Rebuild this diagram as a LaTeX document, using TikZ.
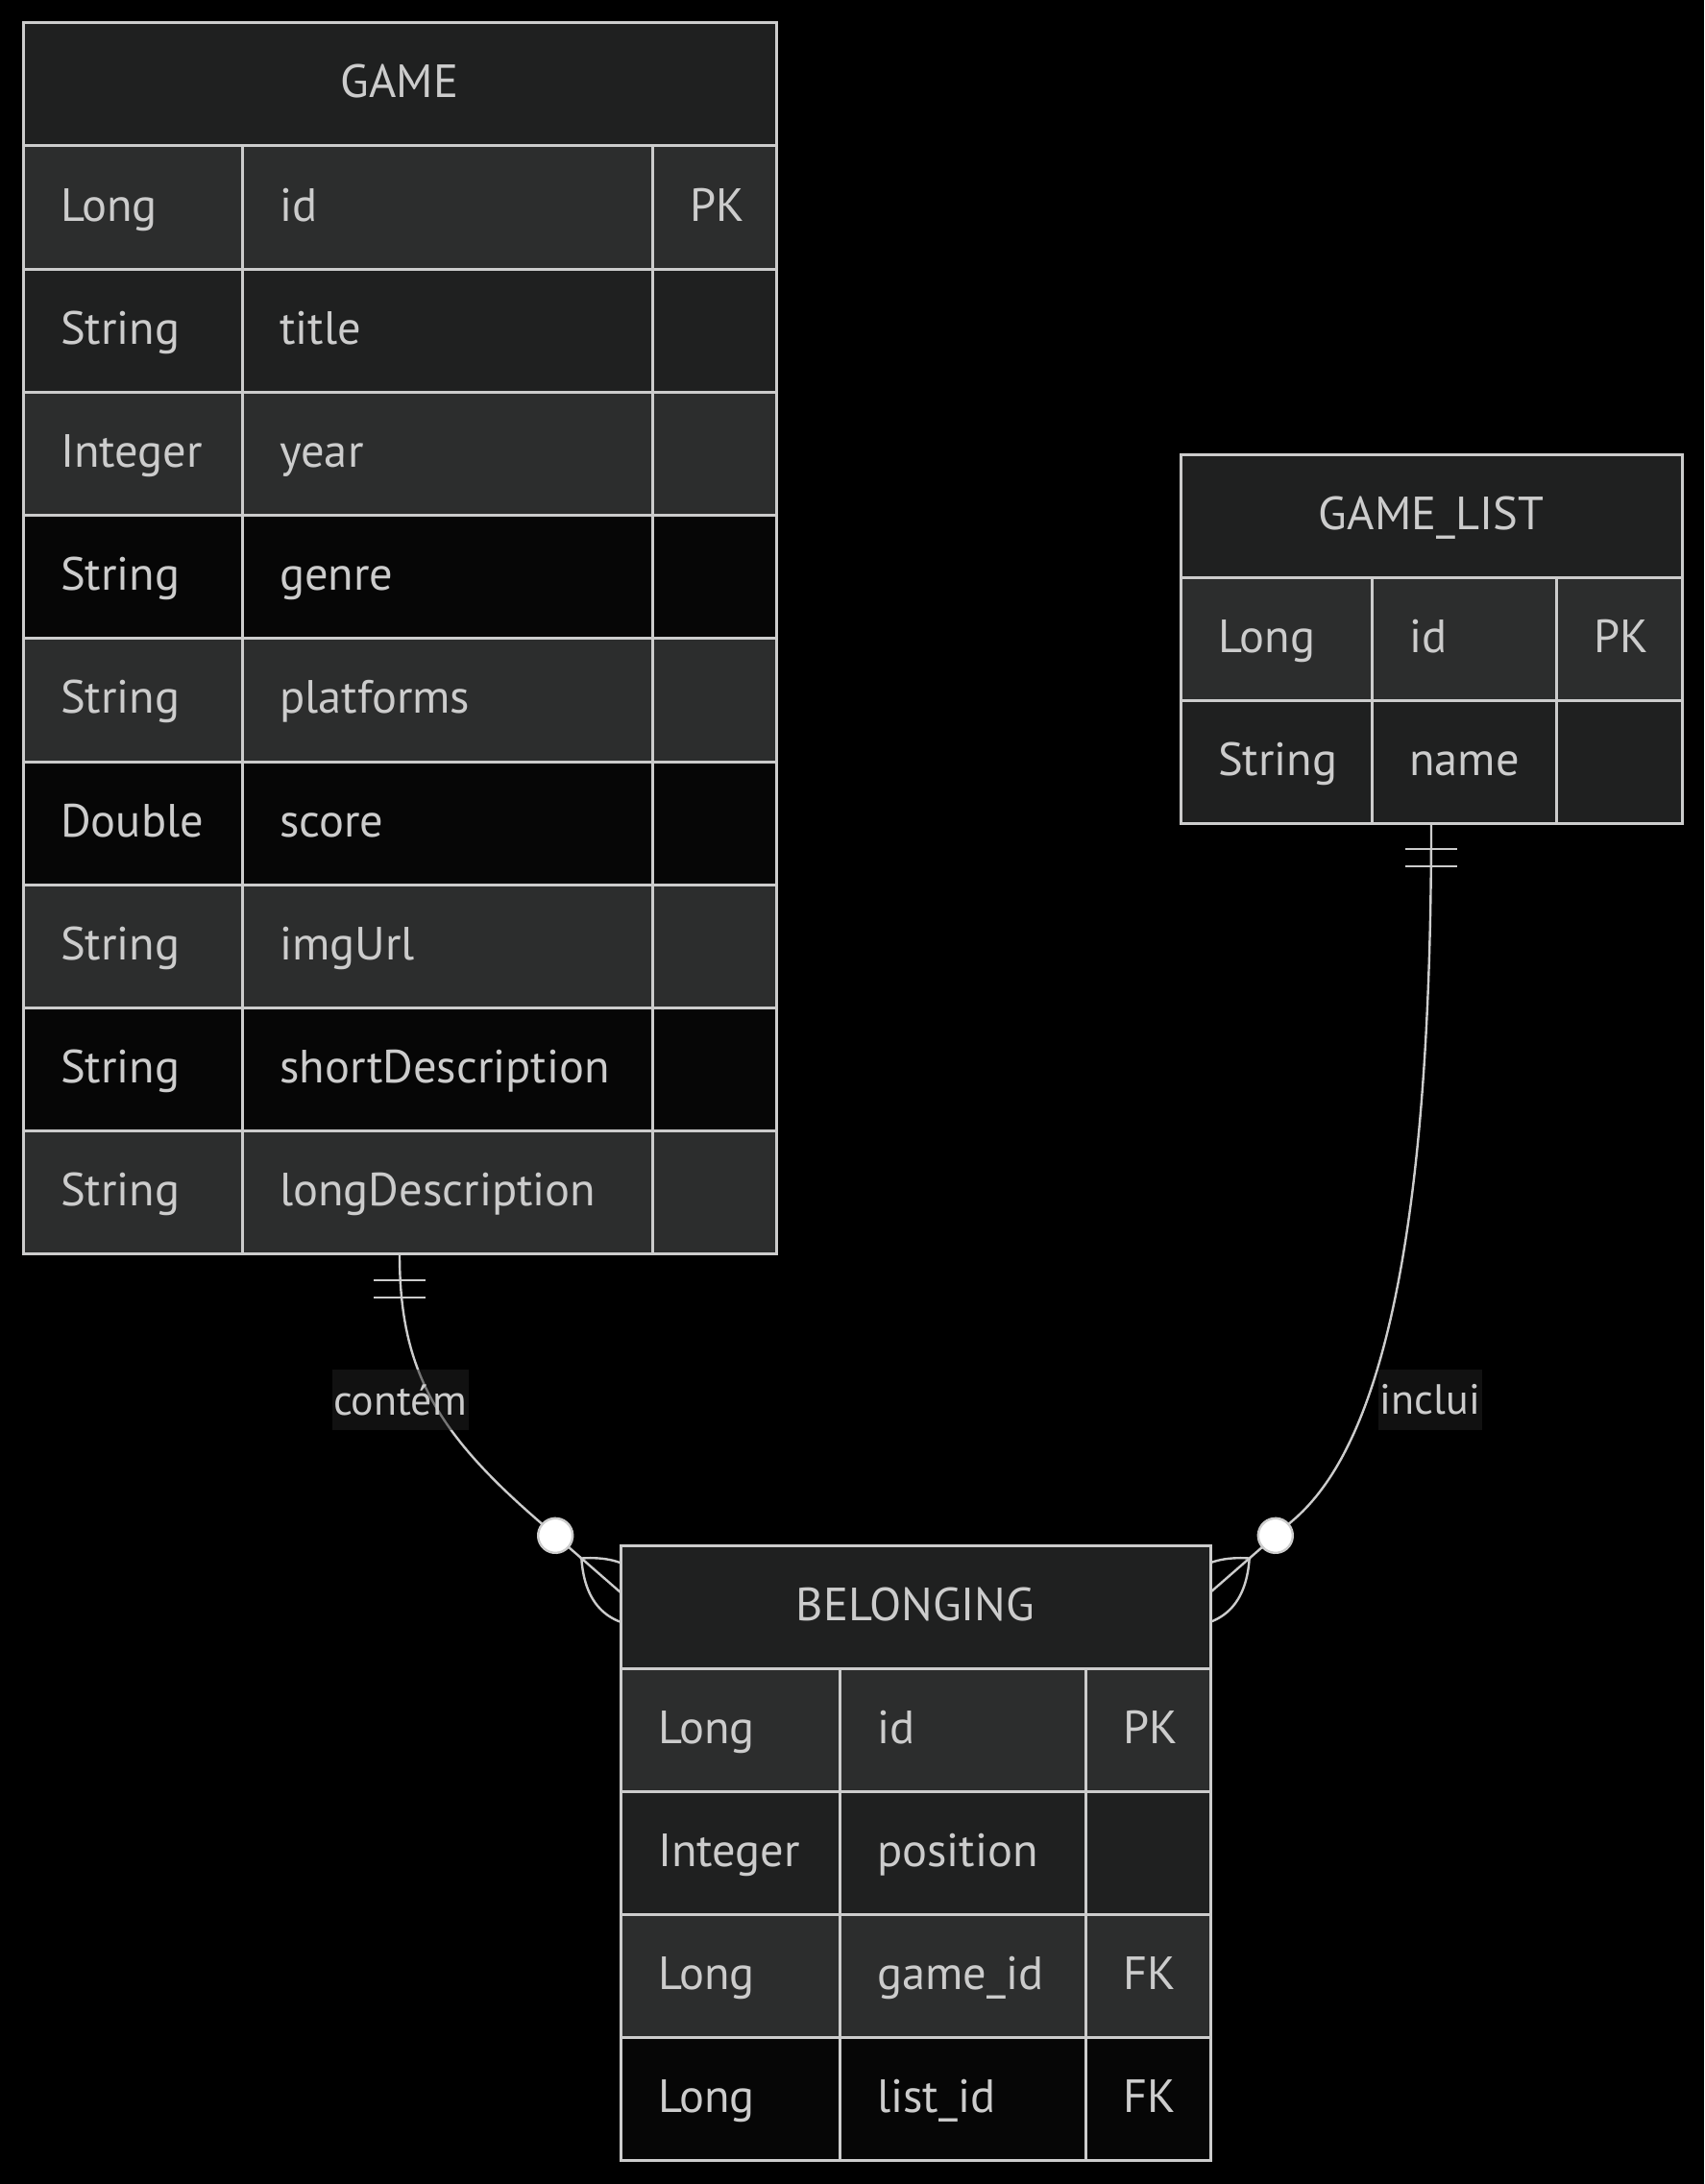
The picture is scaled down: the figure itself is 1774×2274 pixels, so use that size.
\documentclass[tikz,border=0pt]{standalone}
\usepackage{fontspec}
\setmainfont{PT Sans}
\usetikzlibrary{calc}
\definecolor{hdr}{HTML}{1F2020}
\definecolor{rowL}{HTML}{2C2D2D}
\definecolor{rowM}{HTML}{1F2020}
\definecolor{rowD}{HTML}{060606}
\definecolor{ln}{HTML}{CCCCCC}
\definecolor{txt}{HTML}{CCCCCC}
\definecolor{lblbg}{HTML}{222222}
\pgfdeclarelayer{back}
\pgfdeclarelayer{conn}
\pgfsetlayers{back,conn,main}
\tikzset{
  border/.style={draw=ln, line width=3pt},
  celltext/.style={text=txt, font=\fontsize{48.5}{58}\selectfont, inner sep=0pt},
  entbox/.style={rectangle, draw=none, inner sep=0pt, outer sep=0pt, anchor=north west},
  rel/.style={draw=ln, line width=2.4pt},
  lbl/.style={text=txt, font=\fontsize{44}{52}\selectfont, fill=lblbg, fill opacity=0.5, text opacity=1,
              inner xsep=1.5pt, inner ysep=0pt, minimum height=63pt},
  ringdot/.style={fill=white, draw=ln, line width=2.4pt},
}
% row: #1 name prefix, #2 top, #3 bottom, #4 fill, #5 type, #6 field, #7 key
\newcommand\erow[7]{%
  \fill[#4] (\xa,#2) rectangle (\xd,#3);
  \node[celltext,anchor=base west] (#1-t) at ({\xa+39},{(#2+#3)/2+14}) {#5};
  \node[celltext,anchor=base west] (#1-n) at ({\xb+39},{(#2+#3)/2+14}) {#6};
  \if\relax\detokenize{#7}\relax\else
  \node[celltext,anchor=base west] (#1-k) at ({\xc+39},{(#2+#3)/2+14}) {#7};
  \fi
}
\newcommand\ehead[4]{% #1 name, #2 top, #3 bottom, #4 title
  \fill[hdr] (\xa,#2) rectangle (\xd,#3);
  \node[celltext,anchor=base] (#1-title) at ({(\xa+\xd)/2},{(#2+#3)/2+14}) {#4};
}
\begin{document}
\begin{tikzpicture}[x=1pt,y=-1pt]
\begin{pgfonlayer}{back}
  \fill[black] (0,0) rectangle (1774,2274);
\end{pgfonlayer}
\useasboundingbox (0,0) rectangle (1774,2274);

% entity frames (anchors)
\node[entbox, minimum width=784pt, minimum height=1281.8pt] (game) at (24,24) {};
\node[entbox, minimum width=522pt, minimum height=384pt] (gl) at (1229,473) {};
\node[entbox, minimum width=614pt, minimum height=640pt] (bel) at (646,1609) {};
\coordinate (bl) at ($(bel.north west)+(0,49)$);
\coordinate (br) at ($(bel.north east)+(0,49)$);

% connectors
\begin{pgfonlayer}{conn}
  \draw[rel] (game.south) .. controls +(0,120) and ($(bl)+(-192,-167)$) .. ($(bl)+(-86,-75)$) -- (bl);
  \draw[rel] (gl.south) .. controls +(0,493) and ($(br)+(160,-138)$) .. ($(br)+(86,-75)$) -- (br);
  % only-one marks
  \begin{scope}[shift={(game.south)}]
    \draw[rel] (-27,27) -- (27,27) (-27,45) -- (27,45);
  \end{scope}
  \begin{scope}[shift={(gl.south)}]
    \draw[rel] (-27,27) -- (27,27) (-27,45) -- (27,45);
  \end{scope}
  % zero-or-more marks
  \begin{scope}[shift={(bl)}, rotate=-41.1]
    \draw[rel] (-54,0) .. controls (-18,36) and (18,36) .. (54,0) .. controls (18,-36) and (-18,-36) .. (-54,0);
    \draw[ringdot] (-90,0) circle[radius=18pt];
  \end{scope}
  \begin{scope}[shift={(br)}, rotate=221.1]
    \draw[rel] (-54,0) .. controls (-18,36) and (18,36) .. (54,0) .. controls (18,-36) and (-18,-36) .. (-54,0);
    \draw[ringdot] (-90,0) circle[radius=18pt];
  \end{scope}
\end{pgfonlayer}

% GAME
\def\xa{24}\def\xb{252}\def\xc{679}\def\xd{808}
\ehead{g}{24}{152}{GAME}
\erow{g1}{152}{280.2}{rowL}{Long}{id}{PK}
\erow{g2}{280.2}{408.4}{rowM}{String}{title}{}
\erow{g3}{408.4}{536.6}{rowL}{Integer}{year}{}
\erow{g4}{536.6}{664.8}{rowD}{String}{genre}{}
\erow{g5}{664.8}{793}{rowL}{String}{platforms}{}
\erow{g6}{793}{921.2}{rowD}{Double}{score}{}
\erow{g7}{921.2}{1049.4}{rowL}{String}{imgUrl}{}
\erow{g8}{1049.4}{1177.6}{rowD}{String}{shortDescription}{}
\erow{g9}{1177.6}{1305.8}{rowL}{String}{longDescription}{}
\foreach \y in {152,280.2,408.4,536.6,664.8,793,921.2,1049.4,1177.6}
  \draw[border] (\xa,\y) -- (\xd,\y);
\draw[border] (\xb,152) -- (\xb,1305.8) (\xc,152) -- (\xc,1305.8);
\draw[border] (game.north west) rectangle (game.south east);

% GAME_LIST
\def\xa{1229}\def\xb{1428}\def\xc{1620}\def\xd{1751}
\ehead{l}{473}{601}{GAME\_LIST}
\erow{l1}{601}{729}{rowL}{Long}{id}{PK}
\erow{l2}{729}{857}{rowM}{String}{name}{}
\foreach \y in {601,729}
  \draw[border] (\xa,\y) -- (\xd,\y);
\draw[border] (\xb,601) -- (\xb,857) (\xc,601) -- (\xc,857);
\draw[border] (gl.north west) rectangle (gl.south east);

% BELONGING
\def\xa{646}\def\xb{874}\def\xc{1130}\def\xd{1260}
\ehead{b}{1609}{1737}{BELONGING}
\erow{b1}{1737}{1865}{rowL}{Long}{id}{PK}
\erow{b2}{1865}{1993}{rowM}{Integer}{position}{}
\erow{b3}{1993}{2121}{rowL}{Long}{game\_id}{FK}
\erow{b4}{2121}{2249}{rowD}{Long}{list\_id}{FK}
\foreach \y in {1737,1865,1993,2121}
  \draw[border] (\xa,\y) -- (\xd,\y);
\draw[border] (\xb,1737) -- (\xb,2249) (\xc,1737) -- (\xc,2249);
\draw[border] (bel.north west) rectangle (bel.south east);

% relationship labels
\node[lbl] (lc) at (416.5,1457.5) {contém};
\node[lbl] (li) at (1489,1457.5) {inclui};
\end{tikzpicture}
\end{document}
